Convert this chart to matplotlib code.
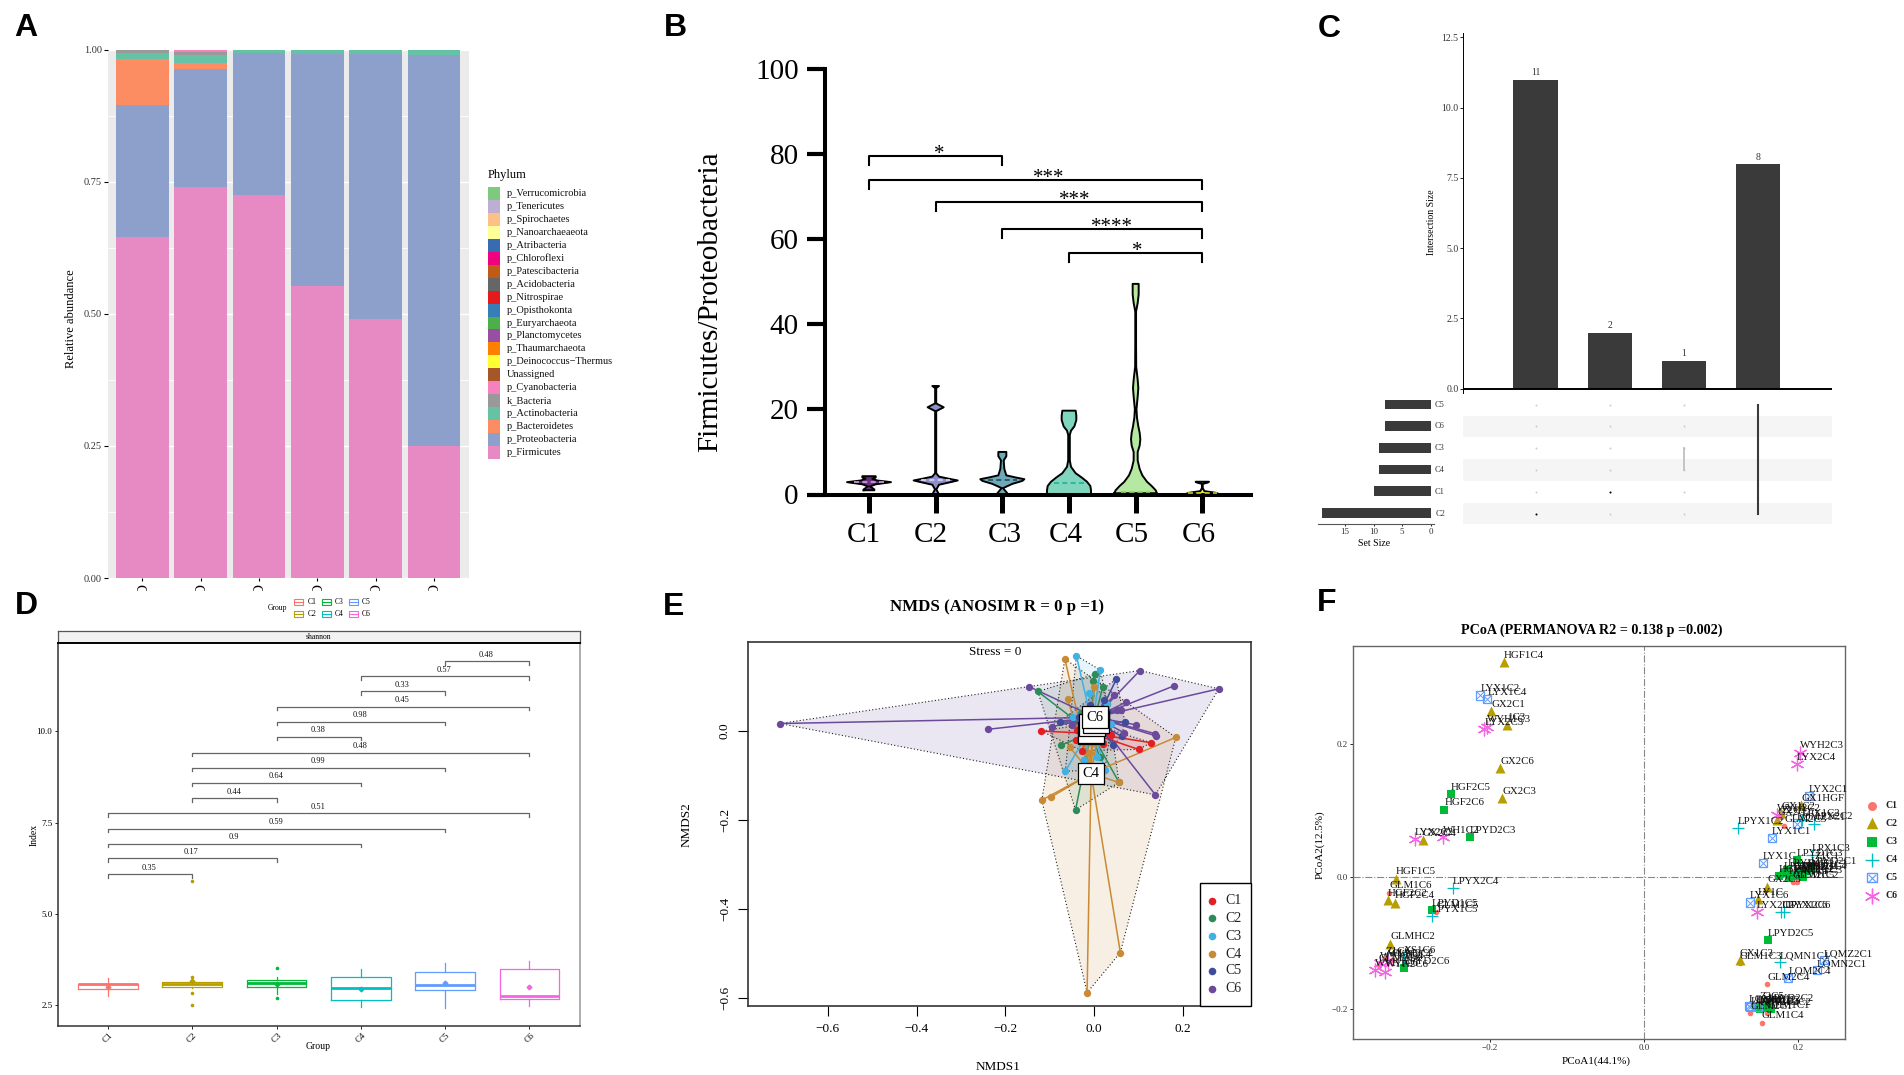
import matplotlib
matplotlib.use('Agg')
import matplotlib.pyplot as plt
from matplotlib.patches import Rectangle, Polygon
from matplotlib.transforms import Bbox, TransformedBbox

plt.rcParams['font.family'] = ['Liberation Serif', 'DejaVu Sans']
plt.rcParams['axes.unicode_minus'] = True

W, H = 1904, 1075
groups = ['C1', 'C2', 'C3', 'C4', 'C5', 'C6']

# A: stacked phylum abundance
phylum_names = ['p_Verrucomicrobia', 'p_Tenericutes', 'p_Spirochaetes', 'p_Nanoarchaeaeota', 'p_Atribacteria',
                'p_Chloroflexi', 'p_Patescibacteria', 'p_Acidobacteria', 'p_Nitrospirae', 'p_Opisthokonta',
                'p_Euryarchaeota', 'p_Planctomycetes', 'p_Thaumarchaeota', 'p_Deinococcus\u2212Thermus', 'Unassigned',
                'p_Cyanobacteria', 'k_Bacteria', 'p_Actinobacteria', 'p_Bacteroidetes', 'p_Proteobacteria', 'p_Firmicutes']
phylum_colors = ['#7FC97F', '#BEAED4', '#FDC086', '#FFFF99', '#386CB0', '#F0027F', '#BF5B17', '#666666', '#E41A1C',
                 '#377EB8', '#4DAF4A', '#984EA3', '#FF7F00', '#FFFF33', '#A65628', '#F781BF', '#999999', '#66C2A5',
                 '#FC8D62', '#8DA0CB', '#E78AC3']
firmicutes = [0.646, 0.740, 0.725, 0.552, 0.490, 0.250]
proteobacteria = [0.249, 0.224, 0.268, 0.440, 0.501, 0.7395]
bacteroidetes = [0.087, 0.011, 0.0, 0.0, 0.0, 0.0]
actinobacteria = [0.011, 0.015, 0.0055, 0.008, 0.009, 0.0105]
k_bacteria = [0.007, 0.005, 0.0015, 0.0, 0.0, 0.0]
cyanobacteria = [0.0, 0.005, 0.0, 0.0, 0.0, 0.0]

# B: violins, y level and half width
v1_y = [1.0, 1.2, 1.9, 2.4, 2.9, 3.3, 3.7, 4.0, 4.3]
v1_w = [.08, .08, .015, .1, .33, .12, .05, .1, .1]
v2_y = [0, 1.2, 2.3, 3.0, 3.3, 3.7, 4.2, 5, 19.6, 20.5, 21.4, 22, 25, 25.5]
v2_w = [.05, .01, .05, .25, .33, .2, .05, .008, .008, .12, .008, .008, .008, .05]
v3_y = [0, 1.5, 2.5, 3.2, 3.6, 4, 4.5, 6, 8, 9, 10]
v3_w = [.09, .01, .15, .3, .33, .2, .06, .03, .02, .06, .06]
v4_y = [0, 1, 2, 3, 4, 5, 6.5, 8, 14, 15, 16, 17.5, 18.5, 19.7]
v4_w = [.33, .33, .32, .27, .19, .1, .03, .012, .012, .03, .08, .11, .11, .1]
v5_y = [.3, 1, 2, 3, 4.5, 6, 8, 10, 11.5, 13, 14.5, 16, 18, 20, 23, 25, 27, 30, 35, 43, 45, 47, 49.5]
v5_w = [.32, .3, .24, .17, .1, .06, .03, .03, .06, .07, .06, .04, .02, .012, .03, .04, .03, .008, .006, .006, .03, .045, .045]
v6_y = [0, .4, .8, 1.5, 2.5, 2.8, 3.0]
v6_w = [.27, .2, .03, .006, .006, .08, .1]
violin_colors = ['#6B2E83', '#8F8FCB', '#6FA9B9', '#7FD5BE', '#B5E8A0', '#ECEC5E']
violin_dash_colors = ['#C9A6D8', '#D8D8F0', '#1F4F5F', '#1FB58F', '#7FD86A', '#C8C820']
violin_medians = [2.9, 3.3, 3.4, 2.8, 0.6, 0.3]
b_brackets = [(1, 3, 79.5, '*', 2.05), (1, 6, 73.9, '***', 3.70), (2, 6, 68.7, '***', 4.09),
              (3, 6, 62.4, '****', 4.64), (4, 6, 56.7, '*', 5.02)]

# C: upset plot
intersection_sizes = [11, 2, 1, 8]
set_names = ['C5', 'C6', 'C3', 'C4', 'C1', 'C2']
set_sizes = [8, 8, 9, 9, 10, 19]

# D: box stats
box_med = [3.07, 3.08, 3.12, 2.97, 3.06, 2.76]
box_q1 = [2.94, 3.01, 3.01, 2.65, 2.91, 2.66]
box_q3 = [3.08, 3.14, 3.19, 3.27, 3.40, 3.49]
box_lo = [2.74, 2.98, 2.81, 2.46, 2.42, 2.48]
box_hi = [3.24, 3.17, 3.28, 3.49, 3.67, 3.70]
box_mean = [3.01, 3.17, 3.07, 2.95, 3.10, 3.01]
box_fliers = [[], [5.90, 3.28, 2.83, 2.51], [3.53, 2.71], [], [], []]
box_colors = ['#F8766D', '#B79F00', '#00BA38', '#00BFC4', '#619CFF', '#F564E3']
d_brackets = [(1, 2, 6.09, '0.35'), (1, 3, 6.52, '0.17'), (1, 4, 6.93, '0.9'), (1, 5, 7.34, '0.59'), (1, 6, 7.76, '0.51'),
              (2, 3, 8.17, '0.44'), (2, 4, 8.60, '0.64'), (2, 5, 9.01, '0.99'), (2, 6, 9.42, '0.48'), (3, 4, 9.86, '0.38'),
              (3, 5, 10.27, '0.98'), (3, 6, 10.68, '0.45'), (4, 5, 11.10, '0.33'), (4, 6, 11.52, '0.57'), (5, 6, 11.93, '0.48')]

# E: NMDS scores
nmds_colors = ['#E31F26', '#2E8B57', '#3FB1E3', '#C98A35', '#3F4C9B', '#6B4A9C']
nmds_x = [[-.119, .128, .100, -.041, .039, -.013, -.039, .020, -.028, .012],
          [.002, -.002, .019, -.127, -.075, -.042, .056, -.022, .030, -.030, .012],
          [-.040, .014, -.065, .024, -.047, .039, -.022, -.012, .030, .006],
          [-.066, -.060, -.001, .184, .055, .059, -.016, -.097, -.118, -.055, -.009, -.004, .018, -.022],
          [.050, .043, -.010, .022, .062, -.078, .069, .030, -.035],
          [-.709, -.240, -.147, .103, .181, .281, .138, .140, .138, .095, .072, .060, .052, -.095, .045, -.050, .068]]
nmds_y = [[-.001, -.027, -.042, -.021, -.010, .016, .001, -.030, -.045, .010],
          [.127, .112, .097, .088, -.033, -.178, -.116, -.066, .060, .040, -.058],
          [.168, .136, -.091, -.088, .031, .016, -.066, .085, .060, -.060],
          [.161, .071, .097, -.015, -.116, -.498, -.588, -.149, -.156, -.037, -.051, -.028, .040, .020],
          [.116, -.032, .058, .069, -.013, .020, .020, .045, .030],
          [.016, .003, .099, .135, .101, .094, -.144, -.012, -.007, .013, .064, .046, .046, .009, .080, .012, -.005]]
nmds_cx = [-.007, -.007, -.004, -.007, .004, .002]
nmds_cy = [-.006, -.004, .013, -.096, .020, .030]

# F: PCoA scores
c1_names = ['GLM2C4', 'GLM1C4', 'GLM1C3', 'GLM1C6', 'GLM2C3', 'GLM2C1', 'GLM1C1', 'GLM2C5', 'GLM1C2', 'Z1C1', 'GLM1C5', 'GLM2C6', 'GLM2C2', 'Z2C3', 'Z2C5', 'Z1C6']
c1_x = [.160, .153, .124, -.330, .182, .138, .160, .193, .198, .221, -.269, -.344, -.327, .178, .150, -.335]
c1_y = [-.162, -.220, -.130, -.024, .076, -.206, -.205, -.008, -.008, .020, -.053, -.133, -.126, .090, -.190, -.123]
c2_names = ['HGF1C4', 'GX2C1', '1C3', 'GX2C6', 'GX2C3', 'GX2C4', 'HGF1C5', 'HGF2C2', 'HGF2C4', 'GLMHC2', 'GX1C3', 'GX2C5', 'LY1C', 'GX1HGF', 'GX1C2', 'GX2C2']
c2_x = [-.182, -.198, -.178, -.186, -.184, -.287, -.322, -.332, -.323, -.329, .124, .160, .148, .204, .178, .173]
c2_y = [.323, .250, .229, .164, .118, .055, -.003, -.035, -.039, -.101, -.126, -.015, -.034, .108, .096, .086]
c3_names = ['HGF2C5', 'HGF2C6', 'LPYD2C3', 'LPYD1C5', 'LPYD2C5', 'LPYD1C3', 'LPYD1C1', 'LPYD2C1', 'LPYD1C4', 'LPYD2C4', 'LPYD1C2', 'LPYD2C6',
            '2C1', 'HGF2C1', 'HGF2C2', 'HGF1C1', 'HGF1C2', 'HGF1C3', 'HGF1C6', 'HGF2C4', 'HGF2C3', 'LPYD2C2']
c3_x = [-.250, -.259, -.226, -.275, .161, .198, .186, .216, .203, .193, .181, -.311,
        .158, .145, .165, .188, .196, .206, .175, .150, .212, .160]
c3_y = [.124, .101, .060, -.050, -.096, .025, .010, .013, .005, .003, .005, -.138,
        -.196, -.197, -.199, -.002, .001, -.001, .001, -.199, .008, -.193]
c4_names = ['LPYX2C4', 'LPYX1C5', 'LPYX1C2', 'LPX2C2', 'LPYX1C6', 'LPYX2C6', 'LQMN1C1', 'XS1C6', 'LPX1C3', 'LPX1C1', 'LPX1C2']
c4_x = [-.248, -.275, .122, .221, .178, .182, .176, -.311, .218, .198, .205]
c4_y = [-.017, -.059, .073, .080, -.054, -.054, -.129, -.121, .033, .005, .085]
c5_names = ['LYX1C2', 'LYX1C4', 'LYX2C1', 'LYX1C1', 'LYX1C', 'LYX1C6', 'LQMZ2C1', 'LQMN2C1', 'LQM2C4', 'LQMZ1C1', 'LQM1C1', 'LQM1C2', 'LQM1C3']
c5_x = [-.212, -.203, .214, .166, .154, .137, .233, .224, .187, .198, .136, .138, .148]
c5_y = [.273, .267, .121, .058, .021, -.039, -.126, -.141, -.153, .080, -.195, -.197, -.196]
c6_names = ['WYH1C3', 'LYX2C3', 'WYH2C3', 'LYX2C4', 'LYX2C2', 'WH1C2', 'LYX2C5', 'WYH2C2', 'WYH1C6', 'WYH2C6', 'WYH1C4', 'WYH2C4']
c6_x = [-.204, -.207, .202, .198, -.297, -.260, .146, .172, -.349, -.336, -.342, -.332]
c6_y = [.226, .222, .187, .170, .057, .059, -.053, .093, -.141, -.143, -.130, -.128]

fig = plt.figure(figsize=(W / 100, H / 100), dpi=100, facecolor='white')


def add_ax(left, top, right, bottom):
    return fig.add_axes([left / W, 1 - bottom / H, (right - left) / W, (bottom - top) / H])


def hull(xs, ys):
    pts = sorted(set(zip(xs, ys)))

    def half(seq):
        out = []
        for p in seq:
            while len(out) > 1 and ((out[-1][0] - out[-2][0]) * (p[1] - out[-2][1])
                                    - (out[-1][1] - out[-2][1]) * (p[0] - out[-2][0])) <= 0:
                out.pop()
            out.append(p)
        return out[:-1]
    return half(pts) + half(pts[::-1])


# ---- A ----
ax = add_ax(108, 49.5, 469, 578)
ax.set_facecolor('#EBEBEB')
xs = list(range(1, 7))
bottom = [0.0] * 6
for vals, col in [(firmicutes, '#E78AC3'), (proteobacteria, '#8DA0CB'), (bacteroidetes, '#FC8D62'),
                  (actinobacteria, '#66C2A5'), (k_bacteria, '#999999'), (cyanobacteria, '#F781BF')]:
    ax.bar(xs, vals, 0.9, bottom=bottom, color=col, zorder=3)
    bottom = [b + v for b, v in zip(bottom, vals)]
ax.set_xlim(0.41, 6.6)
ax.set_ylim(0, 1)
ax.set_yticks([0, .25, .5, .75, 1])
ax.set_yticklabels(['0.00', '0.25', '0.50', '0.75', '1.00'], fontsize=7.5, color='#333333')
ax.set_yticks([.125, .375, .625, .875], minor=True)
ax.grid(True, which='major', axis='y', color='white', lw=1)
ax.grid(True, which='minor', axis='y', color='white', lw=.6)
ax.tick_params(which='minor', length=0)
ax.tick_params(axis='y', length=3, width=.8, pad=1.5)
ax.set_xticks(xs)
ax.set_xticklabels([])
ax.tick_params(axis='x', length=2.5, width=.8)
for s in ax.spines.values():
    s.set_visible(False)

# ---- B ----
ax = add_ax(825, 69, 1251, 494.5)
violins = [(v1_y, v1_w), (v2_y, v2_w), (v3_y, v3_w), (v4_y, v4_w), (v5_y, v5_w), (v6_y, v6_w)]
for i, (vy, vw) in enumerate(violins):
    left = [i + 1 - w for w in vw]
    right = [i + 1 + w for w in vw]
    ax.fill_betweenx(vy, left, right, color=violin_colors[i], lw=0, zorder=2)
    ax.plot(left + right[::-1] + left[:1], vy + vy[::-1] + vy[:1], color='black', lw=1.4, zorder=3, clip_on=False)
    ax.plot([i + 1 - .22, i + 1 + .22], [violin_medians[i]] * 2, color=violin_dash_colors[i], lw=1.2,
            ls=(0, (3, 2)), zorder=4)
for x1, x2, y, star, star_x in b_brackets:
    ax.plot([x1, x1, x2, x2], [y - 2.1, y, y, y - 2.1], color='black', lw=1.5, zorder=3)
    ax.text(star_x, y - 1.8, star, ha='center', va='bottom', fontsize=15)
ax.set_xlim(0.34, 6.73)
ax.set_ylim(0, 100)
ax.set_yticks([0, 20, 40, 60, 80, 100])
ax.tick_params(axis='y', labelsize=21, length=13, width=3, pad=6)
ax.set_xticks(xs)
ax.set_xticklabels([])
ax.tick_params(axis='x', length=13, width=3.6)
for s in ['top', 'right']:
    ax.spines[s].set_visible(False)
for s in ['left', 'bottom']:
    ax.spines[s].set_linewidth(2.9)

# ---- C ----
ax = add_ax(1462.6, 32.7, 1831.6, 393.5)
ix = [1, 2, 3, 4]
ax.bar(ix, intersection_sizes, 0.6, color='#3A3A3A', zorder=2)
for x, v in zip(ix, intersection_sizes):
    ax.text(x, v + .08, str(v), ha='center', va='bottom', fontsize=7, color='#333333')
ax.axhline(0, color='black', lw=1.4, zorder=3)
ax.set_xlim(0.014, 4.99)
ax.set_ylim(-0.17, 12.67)
ax.set_yticks([0, 2.5, 5, 7.5, 10, 12.5])
ax.set_yticklabels(['0.0', '2.5', '5.0', '7.5', '10.0', '12.5'], fontsize=7, color='#333333')
ax.tick_params(axis='y', length=2, width=.6, pad=1)
ax.set_xticks([])
for s in ['top', 'right', 'bottom']:
    ax.spines[s].set_visible(False)
ax.spines['left'].set_linewidth(.7)

mx = add_ax(1462.6, 393.8, 1831.6, 524.4)
rows = list(range(len(set_names)))
for r in rows:
    if r % 2 == 1:
        mx.axhspan(r - .5, r + .5, color='#F5F5F5', lw=0)
    mx.scatter(ix[:3], [r] * 3, s=2, color='#CCCCCC', lw=0, zorder=2)
mx.scatter([2, 1], [4, 5], s=2, color='black', lw=0, zorder=3)
mx.plot([3, 3], [2, 3], color='#BBBBBB', lw=1.2)
mx.plot([4, 4], [0, 5], color='#3A3A3A', lw=1.5)
mx.set_xlim(0.014, 4.99)
mx.set_ylim(5.5, -0.5)
mx.axis('off')

sx = add_ax(1317.7, 393.8, 1434, 523.6)
sx.barh(rows, set_sizes, 0.45, color='#3A3A3A')
sx.set_xlim(19.8, -0.6)
sx.set_ylim(5.5, -0.5)
sx.set_yticks([])
sx.set_xticks([0, 5, 10, 15])
sx.tick_params(axis='x', labelsize=6.5, length=1.5, width=.6, pad=1.5, labelcolor='#333333')
for s in ['top', 'right', 'left']:
    sx.spines[s].set_visible(False)
sx.spines['bottom'].set_color('#555555')

# ---- D ----
ax = add_ax(58, 642.7, 580, 1025.7)
for i in range(6):
    stat = dict(med=box_med[i], q1=box_q1[i], q3=box_q3[i], whislo=box_lo[i], whishi=box_hi[i],
                fliers=box_fliers[i], mean=box_mean[i])
    col = box_colors[i]
    ax.bxp([stat], positions=[i + 1], widths=.71, showcaps=False, showmeans=True, manage_ticks=False,
           boxprops=dict(color=col, lw=.9), whiskerprops=dict(color=col, lw=.9),
           medianprops=dict(color=col, lw=2),
           flierprops=dict(marker='o', ms=1.6, mfc=col, mec=col),
           meanprops=dict(marker='D', ms=2.4, mfc=col, mec=col))
for x1, x2, y, lab in d_brackets:
    ax.plot([x1, x1, x2, x2], [y - .1, y, y, y - .1], color='#666666', lw=.9)
    ax.text((x1 + x2) / 2 - .01, y + .06, lab, ha='center', va='bottom', fontsize=6, color='#111111')
ax.set_xlim(0.407, 6.6)
ax.set_ylim(1.94, 12.43)
ax.set_yticks([2.5, 5, 7.5, 10])
ax.set_yticklabels(['2.5', '5.0', '7.5', '10.0'], fontsize=6.5)
ax.set_xticks(xs)
ax.set_xticklabels(groups, rotation=45, fontsize=6.5, ha='center')
ax.tick_params(length=2, width=.6, pad=2)
ax.spines['top'].set_visible(False)
for s in ['left', 'bottom']:
    ax.spines[s].set_linewidth(1.1)
    ax.spines[s].set_color('#333333')
ax.spines['right'].set_linewidth(1.2)
ax.spines['right'].set_color('#A0A0A0')

st = add_ax(58, 631, 580, 642.7)
st.set_facecolor('#F2F2F2')
st.set_xticks([])
st.set_yticks([])
st.text(.5, .5, 'shannon', ha='center', va='center', fontsize=5.5, transform=st.transAxes)
for s in st.spines.values():
    s.set_linewidth(.9)
    s.set_color('#555555')
st.spines['bottom'].set_linewidth(1.4)
st.spines['bottom'].set_color('black')

# ---- E ----
ax = add_ax(747.6, 641.7, 1251, 1006)
for i in range(6):
    poly = hull(nmds_x[i], nmds_y[i])
    ax.add_patch(Polygon(poly, closed=True, facecolor=nmds_colors[i], alpha=.13, lw=0, zorder=1))
    ax.add_patch(Polygon(poly, closed=True, fill=False, edgecolor='#222222', lw=.8, ls=(0, (1, 2)), zorder=2))
    for x, y in zip(nmds_x[i], nmds_y[i]):
        ax.plot([nmds_cx[i], x], [nmds_cy[i], y], color=nmds_colors[i], lw=1.1, zorder=3)
    ax.scatter(nmds_x[i], nmds_y[i], s=28, color=nmds_colors[i], lw=0, zorder=4)
for i in [4, 1, 0, 2, 3, 5]:
    ax.text(nmds_cx[i], nmds_cy[i], groups[i], ha='center', va='center', fontsize=10.5, zorder=6 + i,
            bbox=dict(boxstyle='square,pad=0.3', fc='white', ec='black', lw=.9))
ax.set_xlim(-.781, .3534)
ax.set_ylim(-.618, .1997)
ax.set_xticks([-.6, -.4, -.2, 0, .2])
ax.set_xticklabels(['\u22120.6', '\u22120.4', '\u22120.2', '0.0', '0.2'], fontsize=9.5)
ax.set_yticks([-.6, -.4, -.2, 0])
ax.set_yticklabels(['\u22120.6', '\u22120.4', '\u22120.2', '0.0'], fontsize=9.5, rotation=90, va='center')
ax.tick_params(length=7, width=.8, pad=5)
for s in ax.spines.values():
    s.set_linewidth(1.2)
    s.set_color('#333333')

# ---- F ----
ax = add_ax(1352.8, 645.7, 1845, 1039)
ax.axhline(0, color='#888888', lw=.8, ls='-.')
ax.axvline(0, color='#888888', lw=.8, ls='-.')
ax.scatter(c1_x, c1_y, s=16, color='#F8766D', lw=0, zorder=3)
ax.scatter(c2_x, c2_y, s=52, color='#B79F00', marker='^', lw=0, zorder=3)
ax.scatter(c3_x, c3_y, s=32, color='#00BA38', marker='s', lw=0, zorder=3)
ax.scatter(c4_x, c4_y, s=80, color='#00BFC4', marker='+', lw=.9, zorder=3)
ax.scatter(c5_x, c5_y, s=34, facecolors='none', edgecolors='#619CFF', marker='s', lw=.9, zorder=3)
ax.scatter(c5_x, c5_y, s=24, color='#619CFF', marker='x', lw=.7, zorder=3)
ax.scatter(c6_x, c6_y, s=85, color='#F564E3', marker=(6, 2, 0), lw=.9, zorder=3)
all_names = [(c1_names, c1_x, c1_y), (c2_names, c2_x, c2_y), (c3_names, c3_x, c3_y),
             (c4_names, c4_x, c4_y), (c5_names, c5_x, c5_y), (c6_names, c6_x, c6_y)]
for names, px, py in all_names:
    for n, x, y in zip(names, px, py):
        ax.annotate(n, (x, y), xytext=(0, 3), textcoords='offset points', fontsize=7.8, color='#111111', zorder=4)
ax.set_xlim(-.3775, .2607)
ax.set_ylim(-.2447, .348)
ax.set_xticks([-.2, 0, .2])
ax.set_xticklabels(['\u22120.2', '0.0', '0.2'], fontsize=6.5, color='#333333')
ax.set_yticks([-.2, 0, .2])
ax.set_yticklabels(['\u22120.2', '0.0', '0.2'], fontsize=6.5, color='#333333')
ax.tick_params(length=2, width=.6, pad=1.5)
for s in ax.spines.values():
    s.set_linewidth(1)
    s.set_color('#666666')

# ---- overlay: legends, labels, letters, all in figure pixels ----
ov = fig.add_axes([0, 0, 1, 1], zorder=50)
ov.set_xlim(0, W)
ov.set_ylim(H, 0)
ov.axis('off')

for i, (name, col) in enumerate(zip(phylum_names, phylum_colors)):
    yy = 193.3 + 12.97 * i
    ov.add_patch(Rectangle((488, yy - 6.5), 12, 13, fc=col, lw=0))
    ov.text(507, yy, name, fontsize=7.5, va='center', color='#111111')
ov.text(488, 175, 'Phylum', fontsize=9, va='center')
ov.text(71, 319, 'Relative abundance', fontsize=9, rotation=90, ha='center', va='center')
clip = TransformedBbox(Bbox([[0, 583], [W, 590.5]]), ov.transData)
for i, g in enumerate(groups):
    lab = ov.text(138.5 + 58.3 * i, 584.5, g, rotation=-90, ha='center', va='top', fontsize=11)
    lab.set_clip_box(clip)
    lab.set_clip_on(True)

ov.text(277, 608, 'Group', fontsize=5.5, ha='center', va='center')
for i, g in enumerate(groups):
    xx = [298.6, 326, 353][i // 2]
    yy = [602.3, 613.7][i % 2]
    ov.add_patch(Rectangle((xx - 4.5, yy - 3), 9, 6, fc='none', ec=box_colors[i], lw=.8))
    ov.plot([xx - 4.5, xx + 4.5], [yy, yy], color=box_colors[i], lw=.8)
    ov.text(xx + 13.5, yy, g, fontsize=5.5, va='center', ha='center')
ov.text(34, 835, 'Index', fontsize=7, rotation=90, ha='center', va='center')
ov.text(318, 1046.7, 'Group', fontsize=7, ha='center', va='center')

b_label_x = [863.5, 931, 1005, 1065.6, 1132, 1199]
for x, g in zip(b_label_x, groups):
    ov.text(x, 534.5, g, fontsize=21, ha='center', va='center')
ov.text(710.5, 302, 'Firmicutes/Proteobacteria', fontsize=21, rotation=90, ha='center', va='center')

ov.text(1431.7, 222, 'Intersection Size', fontsize=7, rotation=90, ha='center', va='center')
ov.text(1374, 543, 'Set Size', fontsize=7, ha='center', va='center')
for name, yy in zip(set_names, [404.7, 426.5, 448.4, 470.2, 492, 513.5]):
    ov.text(1440, yy, name, fontsize=6, ha='center', va='center', color='#333333')

ov.text(996.8, 607.3, 'NMDS (ANOSIM R = 0 p =1)', fontsize=12.2, fontweight='bold', ha='center', va='center')
ov.text(995, 651.7, 'Stress = 0', fontsize=9.5, ha='center', va='center', zorder=60)
ov.text(998, 1067, 'NMDS1', fontsize=9.5, ha='center', va='center')
ov.text(686.8, 825, 'NMDS2', fontsize=9.5, rotation=90, ha='center', va='center')
ov.add_patch(Rectangle((1199.6, 883.3), 51.4, 122.7, fc='white', ec='black', lw=1))
for i, (g, zy) in enumerate(zip(groups, [933, 985, 1038, 1092, 1143, 1196])):
    yy = 590 + zy / 3
    ov.scatter([1212], [yy], s=30, color=nmds_colors[i], lw=0)
    ov.text(1225.6, yy, g, fontsize=10, va='center', color='#222222')

ov.text(1592, 630, 'PCoA (PERMANOVA R2 = 0.138 p =0.002)', fontsize=10.2, fontweight='bold', ha='center', va='center')
ov.text(1596.6, 1060.7, 'PCoA1(44.1%)', fontsize=8, ha='center', va='center')
ov.text(1320, 845, 'PCoA2(12.5%)', fontsize=8, rotation=90, ha='center', va='center')
leg_y = [805.7, 823.3, 841.7, 860, 877.7, 895.7]
ov.scatter([1872], [leg_y[0]], s=42, color='#F8766D', lw=0)
ov.scatter([1872], [leg_y[1]], s=70, color='#B79F00', marker='^', lw=0)
ov.scatter([1872], [leg_y[2]], s=48, color='#00BA38', marker='s', lw=0)
ov.scatter([1872], [leg_y[3]], s=110, color='#00BFC4', marker='+', lw=1)
ov.scatter([1872], [leg_y[4]], s=46, facecolors='none', edgecolors='#619CFF', marker='s', lw=1)
ov.scatter([1872], [leg_y[4]], s=30, color='#619CFF', marker='x', lw=.8)
ov.scatter([1872], [leg_y[5]], s=110, color='#F564E3', marker=(6, 2, 0), lw=1)
for g, yy in zip(groups, leg_y):
    ov.text(1886, yy, g, fontsize=7, fontweight='bold', va='center', color='#222222')

for letter, lx, ly in [('A', 25.7, 28), ('B', 675, 28), ('C', 1329, 29), ('D', 26, 606), ('E', 674, 607), ('F', 1327, 603)]:
    ov.text(lx, ly, letter, fontsize=23, fontweight='bold', family='Liberation Sans', ha='center', va='center')

fig.savefig('out.png', dpi=100)
